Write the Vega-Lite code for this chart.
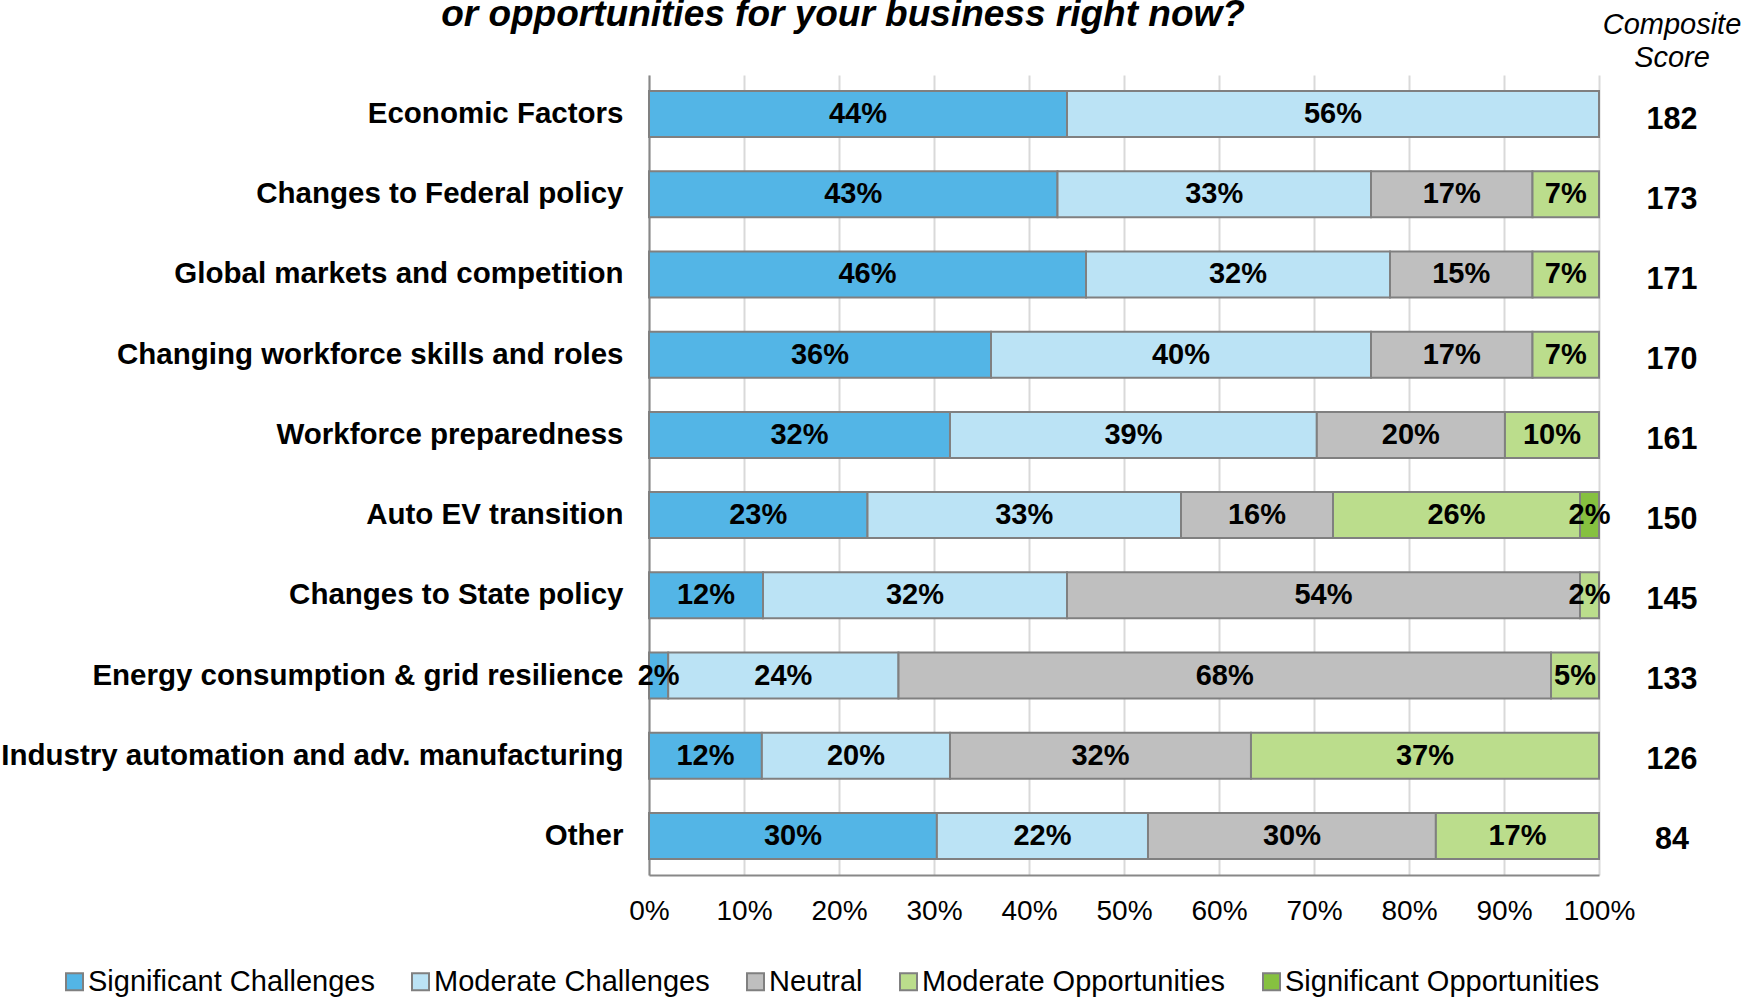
{
  "$schema": "https://vega.github.io/schema/vega-lite/v6.json",
  "background": "white",
  "padding": {"left": 0, "top": -4, "right": 0, "bottom": 0},
  "bounds": "flush",
  "spacing": 0,
  "config": {
    "font": "Liberation Sans",
    "view": {"stroke": null},
    "legend": {
      "orient": "none",
      "direction": "horizontal",
      "legendX": -589,
      "legendY": 892,
      "title": null,
      "symbolType": "square",
      "symbolSize": 289,
      "symbolStrokeColor": "#808080",
      "symbolStrokeWidth": 2,
      "symbolOpacity": 1,
      "labelFontSize": 29,
      "labelColor": "#000000",
      "labelOffset": -1,
      "columnPadding": 31,
      "labelLimit": 1000,
      "padding": 0
    }
  },
  "hconcat": [
    {
      "width": 950,
      "height": 800,
      "title": {
        "text": "or opportunities for your business right now?",
        "fontSize": 37,
        "fontStyle": "italic",
        "fontWeight": "bold",
        "color": "#000000",
        "anchor": "middle",
        "frame": "group",
        "dx": -281,
        "baseline": "alphabetic",
        "offset": 12
      },
      "data": {
        "values": [
          {"factor": "Economic Factors", "level": "Significant Challenges", "rank": 1, "pct": 0.44},
          {"factor": "Economic Factors", "level": "Moderate Challenges", "rank": 2, "pct": 0.56},
          {"factor": "Changes to Federal policy", "level": "Significant Challenges", "rank": 1, "pct": 0.43},
          {"factor": "Changes to Federal policy", "level": "Moderate Challenges", "rank": 2, "pct": 0.33},
          {"factor": "Changes to Federal policy", "level": "Neutral", "rank": 3, "pct": 0.17},
          {"factor": "Changes to Federal policy", "level": "Moderate Opportunities", "rank": 4, "pct": 0.07},
          {"factor": "Global markets and competition", "level": "Significant Challenges", "rank": 1, "pct": 0.46},
          {"factor": "Global markets and competition", "level": "Moderate Challenges", "rank": 2, "pct": 0.32},
          {"factor": "Global markets and competition", "level": "Neutral", "rank": 3, "pct": 0.15},
          {"factor": "Global markets and competition", "level": "Moderate Opportunities", "rank": 4, "pct": 0.07},
          {"factor": "Changing workforce skills and roles", "level": "Significant Challenges", "rank": 1, "pct": 0.36},
          {"factor": "Changing workforce skills and roles", "level": "Moderate Challenges", "rank": 2, "pct": 0.40},
          {"factor": "Changing workforce skills and roles", "level": "Neutral", "rank": 3, "pct": 0.17},
          {"factor": "Changing workforce skills and roles", "level": "Moderate Opportunities", "rank": 4, "pct": 0.07},
          {"factor": "Workforce preparedness", "level": "Significant Challenges", "rank": 1, "pct": 0.32},
          {"factor": "Workforce preparedness", "level": "Moderate Challenges", "rank": 2, "pct": 0.39},
          {"factor": "Workforce preparedness", "level": "Neutral", "rank": 3, "pct": 0.20},
          {"factor": "Workforce preparedness", "level": "Moderate Opportunities", "rank": 4, "pct": 0.10},
          {"factor": "Auto EV transition", "level": "Significant Challenges", "rank": 1, "pct": 0.23},
          {"factor": "Auto EV transition", "level": "Moderate Challenges", "rank": 2, "pct": 0.33},
          {"factor": "Auto EV transition", "level": "Neutral", "rank": 3, "pct": 0.16},
          {"factor": "Auto EV transition", "level": "Moderate Opportunities", "rank": 4, "pct": 0.26},
          {"factor": "Auto EV transition", "level": "Significant Opportunities", "rank": 5, "pct": 0.02},
          {"factor": "Changes to State policy", "level": "Significant Challenges", "rank": 1, "pct": 0.12},
          {"factor": "Changes to State policy", "level": "Moderate Challenges", "rank": 2, "pct": 0.32},
          {"factor": "Changes to State policy", "level": "Neutral", "rank": 3, "pct": 0.54},
          {"factor": "Changes to State policy", "level": "Moderate Opportunities", "rank": 4, "pct": 0.02},
          {"factor": "Energy consumption & grid resilience", "level": "Significant Challenges", "rank": 1, "pct": 0.02},
          {"factor": "Energy consumption & grid resilience", "level": "Moderate Challenges", "rank": 2, "pct": 0.24},
          {"factor": "Energy consumption & grid resilience", "level": "Neutral", "rank": 3, "pct": 0.68},
          {"factor": "Energy consumption & grid resilience", "level": "Moderate Opportunities", "rank": 4, "pct": 0.05},
          {"factor": "Industry automation and adv. manufacturing", "level": "Significant Challenges", "rank": 1, "pct": 0.12},
          {"factor": "Industry automation and adv. manufacturing", "level": "Moderate Challenges", "rank": 2, "pct": 0.20},
          {"factor": "Industry automation and adv. manufacturing", "level": "Neutral", "rank": 3, "pct": 0.32},
          {"factor": "Industry automation and adv. manufacturing", "level": "Moderate Opportunities", "rank": 4, "pct": 0.37},
          {"factor": "Other", "level": "Significant Challenges", "rank": 1, "pct": 0.30},
          {"factor": "Other", "level": "Moderate Challenges", "rank": 2, "pct": 0.22},
          {"factor": "Other", "level": "Neutral", "rank": 3, "pct": 0.30},
          {"factor": "Other", "level": "Moderate Opportunities", "rank": 4, "pct": 0.17}
        ]
      },
      "encoding": {
        "y": {
          "field": "factor",
          "type": "nominal",
          "sort": null,
          "scale": {"paddingInner": 0.426, "paddingOuter": 0.2},
          "axis": {
            "title": null,
            "ticks": false,
            "domain": true,
            "domainColor": "#888888",
            "domainWidth": 2,
            "labelFontSize": 29.5,
            "labelFontWeight": "bold",
            "labelColor": "#000000",
            "labelPadding": 26,
            "labelLimit": 1000
          }
        }
      },
      "layer": [
        {
          "mark": {"type": "bar", "stroke": "#808080", "strokeWidth": 2, "opacity": 1},
          "encoding": {
            "x": {
              "field": "pct",
              "type": "quantitative",
              "stack": "normalize",
              "scale": {"domain": [0, 1], "nice": false},
              "axis": {
                "title": null,
                "format": ".0%",
                "values": [0, 0.1, 0.2, 0.3, 0.4, 0.5, 0.6, 0.7, 0.8, 0.9, 1],
                "grid": true,
                "gridColor": "#d9d9d9",
                "gridWidth": 2,
                "domain": true,
                "domainColor": "#888888",
                "domainWidth": 2,
                "ticks": false,
                "labelFontSize": 28,
                "labelColor": "#000000",
                "labelPadding": 22,
                "labelFlush": false,
                "labelOverlap": false
              }
            },
            "color": {
              "field": "level",
              "type": "nominal",
              "scale": {
                "domain": ["Significant Challenges", "Moderate Challenges", "Neutral", "Moderate Opportunities", "Significant Opportunities"],
                "range": ["#53b5e6", "#bbe3f5", "#bfbfbf", "#bbdd8c", "#86c140"]
              }
            },
            "order": {"field": "rank", "type": "quantitative"}
          }
        },
        {
          "mark": {"type": "text", "fontSize": 29, "fontWeight": "bold", "color": "#000000", "baseline": "middle"},
          "encoding": {
            "x": {"field": "pct", "type": "quantitative", "stack": "normalize", "bandPosition": 0.5},
            "detail": {"field": "level", "type": "nominal"},
            "order": {"field": "rank", "type": "quantitative"},
            "text": {"field": "pct", "type": "quantitative", "format": ".0%"}
          }
        }
      ]
    },
    {
      "width": 146,
      "height": 800,
      "title": {
        "text": ["Composite", "Score"],
        "fontSize": 29,
        "fontStyle": "italic",
        "fontWeight": "normal",
        "color": "#000000",
        "anchor": "middle",
        "frame": "group",
        "lineHeight": 33,
        "baseline": "bottom",
        "offset": -27
      },
      "data": {
        "values": [
          {"factor": "Economic Factors", "score": 182},
          {"factor": "Changes to Federal policy", "score": 173},
          {"factor": "Global markets and competition", "score": 171},
          {"factor": "Changing workforce skills and roles", "score": 170},
          {"factor": "Workforce preparedness", "score": 161},
          {"factor": "Auto EV transition", "score": 150},
          {"factor": "Changes to State policy", "score": 145},
          {"factor": "Energy consumption & grid resilience", "score": 133},
          {"factor": "Industry automation and adv. manufacturing", "score": 126},
          {"factor": "Other", "score": 84}
        ]
      },
      "mark": {"type": "text", "fontSize": 30.5, "fontWeight": "bold", "color": "#000000", "baseline": "middle", "dy": 5},
      "encoding": {
        "y": {
          "field": "factor",
          "type": "nominal",
          "sort": null,
          "scale": {"paddingInner": 0.426, "paddingOuter": 0.2},
          "axis": null
        },
        "text": {"field": "score", "type": "quantitative"}
      }
    }
  ]
}
